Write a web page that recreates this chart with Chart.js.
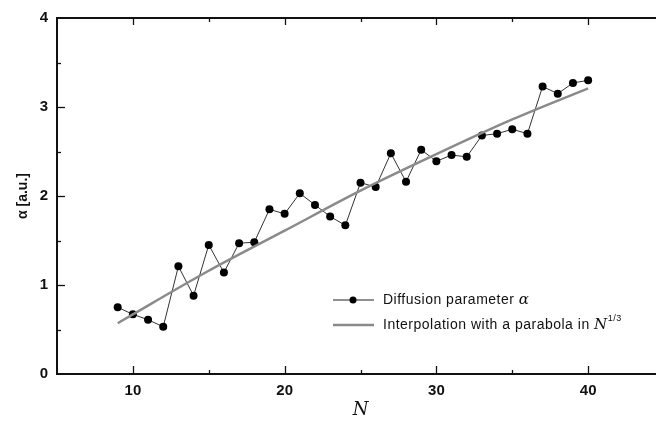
<html>
    <head>
        <title>Diffusion parameter</title>
    </head>
    <body>
        <style>
            body,html{
                margin: 0;
                width: 656px;
                height: 421px;
                overflow: hidden;
                background: #fff;
            }
        </style>
        <canvas id="diffChart" width="668" height="421"></canvas>
        <script src="https://cdn.jsdelivr.net/npm/chart.js@4/dist/chart.umd.min.js"></script>
        <script>
            // measured points
            let sizes = [9,10,11,12,13,14,15,16,17,18,19,20,21,22,23,24,25,26,27,28,29,30,31,32,33,34,35,36,37,38,39,40];
            let alphaValues = [0.75,0.67,0.61,0.53,1.21,0.88,1.45,1.14,1.47,1.48,1.85,1.80,2.03,1.90,1.77,1.67,2.15,2.10,2.48,2.16,2.52,2.39,2.46,2.44,2.68,2.70,2.75,2.70,3.23,3.15,3.27,3.30];
            // fitted curve
            let fitSizes = [9,10,15,20,25,30,35,40];
            let fitValues = [0.57,0.67,1.16,1.61,2.06,2.47,2.86,3.21];
            let xTicks = [10,20,30,40];
            let yTicks = [0,1,2,3,4];

            let tickFont = { family: "'Liberation Sans', Arial", size: 15, weight: "bold" };

            // inward tick marks, top axis line and the legend box
            let framePlugin = {
                id: "frame",
                afterDraw(chart) {
                    let ctx = chart.ctx;
                    let area = chart.chartArea;
                    let xs = chart.scales.x, ys = chart.scales.y;
                    ctx.save();
                    ctx.strokeStyle = "#111";
                    ctx.lineWidth = 2;
                    ctx.beginPath();
                    ctx.moveTo(area.left - 1, area.top);
                    ctx.lineTo(area.right + 5, area.top);
                    ctx.stroke();
                    ctx.lineWidth = 1.3;
                    for (let v = 5; v < 45; v += 5) {
                        if (v === 5) continue;
                        let px = Math.round(xs.getPixelForValue(v)) + 0.5;
                        let major = xTicks.includes(v);
                        ctx.beginPath();
                        ctx.moveTo(px, area.bottom);
                        ctx.lineTo(px, area.bottom - (major ? 8 : 4));
                        ctx.moveTo(px, area.top);
                        ctx.lineTo(px, area.top + (major ? 7 : 4));
                        ctx.stroke();
                    }
                    for (let v = 0.5; v < 4; v += 0.5) {
                        let py = Math.round(ys.getPixelForValue(v)) + 0.5;
                        let major = Number.isInteger(v);
                        ctx.beginPath();
                        ctx.moveTo(area.left, py);
                        ctx.lineTo(area.left + (major ? 8 : 4), py);
                        ctx.stroke();
                    }

                    // legend
                    let lx = 333, ly1 = 300, ly2 = 325;
                    ctx.strokeStyle = "#222";
                    ctx.lineWidth = 1;
                    ctx.beginPath();
                    ctx.moveTo(lx, ly1);
                    ctx.lineTo(lx + 41, ly1);
                    ctx.stroke();
                    ctx.fillStyle = "#000";
                    ctx.beginPath();
                    ctx.arc(lx + 20, ly1, 3.5, 0, Math.PI * 2);
                    ctx.fill();
                    ctx.strokeStyle = "#8a8a8a";
                    ctx.lineWidth = 2.5;
                    ctx.beginPath();
                    ctx.moveTo(lx, ly2);
                    ctx.lineTo(lx + 41, ly2);
                    ctx.stroke();

                    ctx.fillStyle = "#111";
                    ctx.textBaseline = "middle";
                    ctx.textAlign = "left";
                    ctx.letterSpacing = "0.5px";
                    ctx.font = "14px 'Liberation Sans', Arial";
                    let t1 = "Diffusion parameter ";
                    ctx.fillText(t1, 383, ly1);
                    let w1 = ctx.measureText(t1).width;
                    ctx.font = "italic 15px 'DejaVu Serif', serif";
                    ctx.fillText("α", 383 + w1, ly1);
                    ctx.font = "14px 'Liberation Sans', Arial";
                    let t2 = "Interpolation with a parabola in ";
                    ctx.fillText(t2, 383, ly2);
                    let w2 = ctx.measureText(t2).width;
                    ctx.font = "italic 15px 'DejaVu Serif', serif";
                    ctx.fillText("N", 383 + w2, ly2);
                    let w3 = ctx.measureText("N").width;
                    ctx.font = "9px 'Liberation Sans', Arial";
                    ctx.fillText("1/3", 383 + w2 + w3, ly2 - 6);
                    ctx.restore();
                }
            };

            let chartConfig = {
                type: "line",
                data: {
                    datasets: [
                        {
                            label: "Interpolation with a parabola in N^1/3",
                            data: fitSizes.map((n, i) => ({ x: n, y: fitValues[i] })),
                            borderColor: "#8a8a8a",
                            borderWidth: 2.5,
                            pointRadius: 0,
                            cubicInterpolationMode: "monotone",
                            fill: false
                        },
                        {
                            label: "Diffusion parameter α",
                            data: sizes.map((n, i) => ({ x: n, y: alphaValues[i] })),
                            borderColor: "#333",
                            borderWidth: 1,
                            pointRadius: 4,
                            pointBackgroundColor: "#000",
                            pointBorderColor: "#000",
                            pointBorderWidth: 0,
                            tension: 0,
                            fill: false
                        }
                    ]
                },
                options: {
                    responsive: false,
                    animation: false,
                    layout: { padding: { left: 0, right: 3, top: 12, bottom: 0 } },
                    plugins: { legend: { display: false }, tooltip: { enabled: false } },
                    scales: {
                        x: {
                            type: "linear",
                            min: 5,
                            max: 45,
                            afterFit(scale) { scale.height = 47; },
                            afterBuildTicks(scale) { scale.ticks = xTicks.map(v => ({ value: v })); },
                            grid: { drawOnChartArea: false, drawTicks: false },
                            border: { display: true, color: "#111", width: 2 },
                            ticks: { color: "#111", font: tickFont, padding: 8 },
                            title: {
                                display: true,
                                text: "N",
                                color: "#111",
                                font: { family: "'DejaVu Serif', serif", size: 18, style: "italic" },
                                padding: { top: 0, bottom: 0 }
                            }
                        },
                        y: {
                            type: "linear",
                            min: 0,
                            max: 4,
                            afterFit(scale) { scale.width = 57; },
                            afterBuildTicks(scale) { scale.ticks = yTicks.map(v => ({ value: v })); },
                            grid: { drawOnChartArea: false, drawTicks: false },
                            border: { display: true, color: "#111", width: 2 },
                            ticks: { color: "#111", font: tickFont, padding: 9 },
                            title: {
                                display: true,
                                text: "α [a.u.]",
                                color: "#111",
                                font: { family: "'Liberation Sans', Arial", size: 14, weight: "bold" },
                                padding: { top: 15, bottom: 0 }
                            }
                        }
                    }
                },
                plugins: [framePlugin]
            };

            new Chart(document.getElementById("diffChart").getContext("2d"), chartConfig);
        </script>
    </body>
</html>
